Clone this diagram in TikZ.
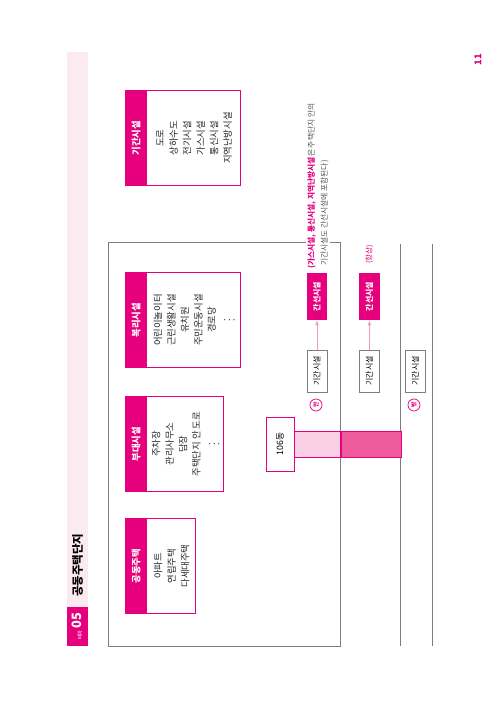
\documentclass[tikz,border=0pt]{standalone}
\usepackage{fontspec}
\setmainfont{Noto Sans CJK KR}
\usetikzlibrary{arrows.meta,positioning,calc}
\definecolor{hotpink}{RGB}{230,0,126}
\definecolor{palepink}{RGB}{252,234,241}
\definecolor{barlight}{RGB}{249,208,227}
\definecolor{bardark}{RGB}{238,92,157}
\definecolor{arrowpink}{RGB}{242,150,196}
\definecolor{linegray}{RGB}{125,125,125}
\definecolor{notegray}{RGB}{85,85,85}

\begin{document}
\begin{tikzpicture}[x=0.3mm, y=0.3mm,
    catbox/.style={draw=hotpink, line width=0.8pt, fill=white, minimum width=28.5mm, anchor=north west, inner sep=0pt},
    cathead/.style={fill=hotpink, text=white, font=\fontsize{8}{9}\selectfont\bfseries, minimum width=28.5mm, minimum height=6.6mm, anchor=north, inner sep=0pt},
    catlist/.style={align=center, font=\fontsize{8}{11.5}\selectfont, text=black!85},
    facbox/.style={draw=linegray, line width=0.7pt, fill=white, minimum width=12.6mm, minimum height=6mm, inner sep=0pt, font=\fontsize{6.8}{8}\selectfont},
    trunkbox/.style={fill=hotpink, text=white, minimum width=14.1mm, minimum height=6mm, inner sep=0pt, font=\fontsize{6.8}{8}\selectfont\bfseries},
    sidemark/.style={circle, draw=hotpink, line width=0.6pt, text=hotpink, minimum size=3.6mm, inner sep=0pt, font=\fontsize{5}{5}\selectfont\bfseries},
    road/.style={draw=linegray, line width=0.8pt},
    link/.style={draw=arrowpink, line width=0.6pt, -{Latex[length=1.5mm,width=1.1mm]}}]
  \begin{scope}[rotate=90, transform shape]
    \fill[white] (0,0) rectangle (703,500);
    \useasboundingbox (0,0) rectangle (703,500);

    % page header
    \fill[palepink] (96,412) rectangle (651,433);
    \node[fill=hotpink, text=white, minimum width=11.7mm, minimum height=6.3mm, anchor=south west, inner sep=0pt] (themetag) at (57,412) {{\fontsize{4.5}{5}\selectfont 테마}\,{\fontsize{11}{12}\selectfont\bfseries 05}};
    \node[anchor=west, font=\fontsize{9.8}{11}\selectfont\bfseries] (title) at (102,422.5) {공동주택단지};
    \node[text=hotpink, font=\fontsize{8}{9}\selectfont\bfseries] (pagenum) at (643,22) {11};

    % housing complex and roads
    \draw[road] (57,160) rectangle (461,392);
    \draw[road] (57,100) -- (459,100);
    \draw[road] (57,68) -- (459,68);

    % facility categories
    \node[catbox, minimum height=21mm] (house) at (89,375) {};
    \node[cathead] (househead) at (house.north) {공동주택};
    \node[catlist] (houselist) at ($(househead.south)!0.5!(house.south)$) {아파트\\연립주택\\다세대주택};

    \node[catbox, minimum height=29.4mm] (annex) at (211,375) {};
    \node[cathead] (annexhead) at (annex.north) {부대시설};
    \node[catlist] (annexlist) at ($(annexhead.south)!0.5!(annex.south)$) {주차장\\관리사무소\\담장\\주택단지 안 도로\\$\vdots$};

    \node[catbox, minimum height=34.5mm] (welfare) at (335,375) {};
    \node[cathead] (welfarehead) at (welfare.north) {복리시설};
    \node[catlist] (welfarelist) at ($(welfarehead.south)!0.5!(welfare.south)$) {어린이놀이터\\근린생활시설\\유치원\\주민운동시설\\경로당\\$\vdots$};

    \node[catbox, minimum height=34.5mm] (infra) at (517,375) {};
    \node[cathead] (infrahead) at (infra.north) {기간시설};
    \node[catlist] (infralist) at ($(infrahead.south)!0.5!(infra.south)$) {도로\\상하수도\\전기시설\\가스시설\\통신시설\\지역난방시설};

    % building and its connection to the road
    \node[draw=hotpink, line width=0.8pt, fill=white, minimum width=16.2mm, minimum height=8.4mm, font=\fontsize{7.5}{8}\selectfont] (bldg) at (259,220) {106동};
    \node[draw=hotpink, line width=0.8pt, fill=barlight, minimum width=7.8mm, minimum height=13.8mm, inner sep=0pt, anchor=north] (innerlink) at (bldg.south) {};
    \node[draw=hotpink, line width=0.8pt, fill=bardark, minimum width=7.8mm, minimum height=18mm, inner sep=0pt, anchor=north] (outerlink) at (innerlink.south) {};

    % inside / outside facilities
    \node[sidemark] (inmark) at (298,184) {안};
    \node[sidemark] (outmark) at (298,86) {밖};
    \node[facbox] (infac) at (332,183) {기간시설};
    \node[facbox] (midfac) at (332,130.5) {기간시설};
    \node[facbox] (outfac) at (332,84.5) {기간시설};
    \node[trunkbox] (intrunk) at (406.5,183) {간선시설};
    \node[trunkbox] (midtrunk) at (406.5,130.5) {간선시설};
    \draw[link] (infac) -- (intrunk);
    \draw[link] (midfac) -- (midtrunk);
    \node[anchor=west, text=hotpink, font=\fontsize{6.4}{7}\selectfont] (always) at ($(midtrunk.east)+(5,0)$) {(항상)};

    \node[anchor=south west, fill=white, inner sep=1pt, align=left, text=notegray, font=\fontsize{6.6}{11}\selectfont] (note) at (433,170) {\textcolor{hotpink}{\bfseries(가스시설, 통신시설, 지역난방시설}은 주택단지 안의\\\hphantom{(}기간시설도 간선시설에 포함된다)};
  \end{scope}
\end{tikzpicture}
\end{document}
